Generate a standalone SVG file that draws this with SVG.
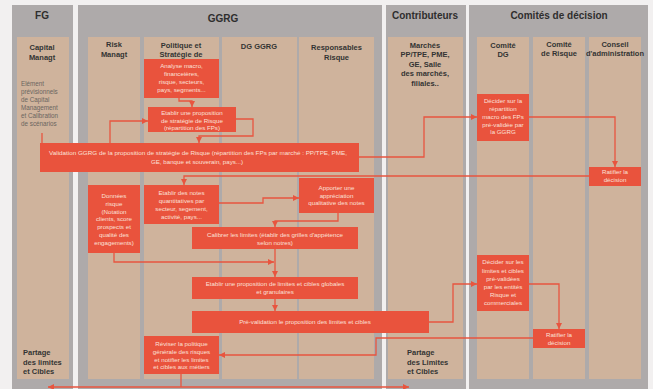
<svg xmlns="http://www.w3.org/2000/svg" width="653" height="389" viewBox="0 0 653 389">
<defs>
<marker id="ah" markerUnits="userSpaceOnUse" markerWidth="6" markerHeight="6" viewBox="0 0 6 6" refX="6" refY="3" orient="auto-start-reverse">
<path d="M0,0 L6,3 L0,6 z" fill="#e8553f"/>
</marker>
<style>
.panel{fill:#aeaaaa}
.lane{fill:#cfb39c}
.box{fill:#e9533d}
.hd{font-family:"Liberation Sans",Arial,sans-serif;font-weight:bold;font-size:10px;fill:#2e2e2e;text-anchor:middle}
.lt{font-family:"Liberation Sans",Arial,sans-serif;font-weight:bold;font-size:7.5px;fill:#333;text-anchor:middle}
.lb{font-family:"Liberation Sans",Arial,sans-serif;font-weight:bold;font-size:7.5px;fill:#333}
.sm{font-family:"Liberation Sans",Arial,sans-serif;font-size:6.3px;fill:#6b6560}
.bt{font-family:"Liberation Sans",Arial,sans-serif;font-size:6.2px;fill:#fbe0d8;text-anchor:middle}
.ln{fill:none;stroke:#e8553f;stroke-width:1.3}
.ar{marker-end:url(#ah)}
</style>
</defs>
<rect x="0" y="0" width="653" height="389" fill="#f2f0f0"/>
<g id="panels">
<rect class="panel" x="12" y="5" width="61" height="384"/>
<rect class="panel" x="78" y="5" width="304" height="384"/>
<rect class="panel" x="386" y="5" width="80" height="384"/>
<rect class="panel" x="469" y="5" width="179" height="384"/>
<text class="hd" x="42" y="19">FG</text>
<text class="hd" x="223" y="22">GGRG</text>
<text class="hd" x="425" y="19">Contributeurs</text>
<text class="hd" x="559" y="19">Comités de décision</text>
</g>
<g id="lanes">
<rect class="lane" x="17" y="37" width="52" height="342"/>
<rect class="lane" x="88" y="37" width="52" height="342"/>
<rect class="lane" x="144" y="37" width="75" height="342"/>
<rect class="lane" x="222" y="37" width="75" height="342"/>
<rect class="lane" x="299" y="37" width="75" height="342"/>
<rect class="lane" x="388" y="37" width="75" height="342"/>
<rect class="lane" x="477" y="37" width="52" height="342"/>
<rect class="lane" x="533" y="37" width="52" height="342"/>
<rect class="lane" x="589" y="37" width="52" height="342"/>
<text class="lt" x="42" y="49.7">Capital</text>
<text class="lt" x="42" y="59.5">Managt</text>
<text class="lt" x="114" y="47">Risk</text>
<text class="lt" x="114" y="56.5">Managt</text>
<text class="lt" x="181" y="47.5">Politique et</text>
<text class="lt" x="181" y="56.7">Stratégie de</text>
<text class="lt" x="259" y="48.5">DG GGRG</text>
<text class="lt" x="336.5" y="49.5">Responsables</text>
<text class="lt" x="336.5" y="59.5">Risque</text>
<text class="lt" x="425" y="47.7">Marchés</text>
<text class="lt" x="425" y="57">PP/TPE, PME,</text>
<text class="lt" x="425" y="66.5">GE, Salle</text>
<text class="lt" x="425" y="76">des marchés,</text>
<text class="lt" x="425" y="85.5">filiales..</text>
<text class="lt" x="503" y="47.7">Comité</text>
<text class="lt" x="503" y="57">DG</text>
<text class="lt" x="559" y="46.7">Comité</text>
<text class="lt" x="559" y="56.4">de Risque</text>
<text class="lt" x="615" y="46.7">Conseil</text>
<text class="lt" x="615" y="56.4">d'administration</text>
</g>
<g id="capital-note">
<text class="sm" x="21" y="86">Elément</text>
<text class="sm" x="21" y="94">prévisionnels</text>
<text class="sm" x="21" y="102">de Capital</text>
<text class="sm" x="21" y="110">Management</text>
<text class="sm" x="21" y="118">et Calibration</text>
<text class="sm" x="21" y="125.5">de scénarios</text>
</g>
<g id="partage-fg">
<text class="lb" x="23" y="354.7">Partage</text>
<text class="lb" x="23" y="364.5">des limites</text>
<text class="lb" x="23" y="373.5">et Cibles</text>
</g>
<g id="partage-contrib">
<text class="lb" x="407" y="354.7">Partage</text>
<text class="lb" x="407" y="364.5">des Limites</text>
<text class="lb" x="407" y="373.5">et Cibles</text>
</g>
<g id="connectors">
<path class="ln ar" d="M179,98 V101 H192 V107"/>
<path class="ln ar" d="M110,143 V121 H148"/>
<path class="ln ar" d="M236,119 H253 V136 H199 V143"/>
<path class="ln" d="M42,133 V143"/>
<path class="ln ar" d="M359,157 H424 V117 H477"/>
<path class="ln ar" d="M529,117 H615 V167"/>
<path class="ln ar" d="M589,176 H184 V185"/>
<path class="ln ar" d="M219,203 H263 V198 H299"/>
<path class="ln ar" d="M338,213 V221 H275 V227"/>
<path class="ln ar" d="M275,249 V277"/>
<path class="ln ar" d="M114,253 V262 H274"/>
<path class="ln ar" d="M275,299 V311"/>
<path class="ln ar" d="M429,322 H453 V284 H477"/>
<path class="ln ar" d="M529,284 H559 V329"/>
<path class="ln ar" d="M533,338 H376 V355 H219"/>
<path class="ln" d="M181,374 V387"/>
<path class="ln" d="M48,387 H409" marker-start="url(#ah)" marker-end="url(#ah)"/>
</g>
<g id="analyse">
<rect class="box" x="144" y="59" width="75" height="39"/>
<text class="bt" x="181.5" y="68">Analyse macro,</text>
<text class="bt" x="181.5" y="76">financeières,</text>
<text class="bt" x="181.5" y="84">risque, secteurs,</text>
<text class="bt" x="181.5" y="92">pays, segments...</text>
</g>
<g id="proposition-strategie">
<rect class="box" x="148" y="107" width="88" height="25"/>
<text class="bt" x="192" y="115.3">Etablir une proposition</text>
<text class="bt" x="192" y="122.8">de stratégie de Risque</text>
<text class="bt" x="192" y="130.3">(répartition des FPs)</text>
</g>
<g id="validation">
<rect class="box" x="40" y="143" width="319" height="29"/>
<text class="bt" x="198" y="155" textLength="298" lengthAdjust="spacingAndGlyphs">Validation GGRG de la proposition de stratégie de Risque (répartition des FPs par marché : PP/TPE, PME,</text>
<text class="bt" x="197" y="164">GE, banque et souverain, pays...)</text>
</g>
<g id="decider-fps">
<rect class="box" x="477" y="94" width="52" height="47"/>
<text class="bt" x="503" y="103">Décider sur la</text>
<text class="bt" x="503" y="111">répartition</text>
<text class="bt" x="503" y="119">macro des FPs</text>
<text class="bt" x="503" y="126.5">pré-validée par</text>
<text class="bt" x="503" y="134">la GGRG</text>
</g>
<g id="ratifier-1">
<rect class="box" x="589" y="167" width="52" height="19"/>
<text class="bt" x="615" y="174">Ratifier la</text>
<text class="bt" x="615" y="182">décision</text>
</g>
<g id="donnees">
<rect class="box" x="88" y="185" width="52" height="68"/>
<text class="bt" x="114" y="198">Données</text>
<text class="bt" x="114" y="205.8">risque</text>
<text class="bt" x="114" y="213.6">(Notation</text>
<text class="bt" x="114" y="221.4">clients, score</text>
<text class="bt" x="114" y="229.2">prospects et</text>
<text class="bt" x="114" y="237">qualité des</text>
<text class="bt" x="114" y="244.8">engagements)</text>
</g>
<g id="notes">
<rect class="box" x="144" y="185" width="75" height="39"/>
<text class="bt" x="181.5" y="195">Etablir des notes</text>
<text class="bt" x="181.5" y="203">quantitatives par</text>
<text class="bt" x="181.5" y="211">secteur, segement,</text>
<text class="bt" x="181.5" y="219">activité, pays...</text>
</g>
<g id="apporter">
<rect class="box" x="299" y="178" width="75" height="35"/>
<text class="bt" x="336.5" y="190">Apporter une</text>
<text class="bt" x="336.5" y="197.5">appréciation</text>
<text class="bt" x="336.5" y="205">qualitative des notes</text>
</g>
<g id="calibrer">
<rect class="box" x="192" y="227" width="166" height="22"/>
<text class="bt" x="275" y="237">Calibrer les limites (établir des grilles d'appétence</text>
<text class="bt" x="275" y="245">selon notres)</text>
</g>
<g id="proposition-limites">
<rect class="box" x="192" y="277" width="166" height="22"/>
<text class="bt" x="275" y="286">Etablir une proposition de limites et cibles globales</text>
<text class="bt" x="275" y="294">et granulaires</text>
</g>
<g id="prevalidation">
<rect class="box" x="192" y="311" width="237" height="22"/>
<text class="bt" x="305" y="324">Pré-validation le proposition des limites et cibles</text>
</g>
<g id="decider-limites">
<rect class="box" x="477" y="255" width="52" height="56"/>
<text class="bt" x="503" y="264">Décider sur les</text>
<text class="bt" x="503" y="272.5">limites et cibles</text>
<text class="bt" x="503" y="281">pré-validées</text>
<text class="bt" x="503" y="289">par les entités</text>
<text class="bt" x="503" y="297">Risque et</text>
<text class="bt" x="503" y="304.5">commerciales</text>
</g>
<g id="ratifier-2">
<rect class="box" x="533" y="329" width="52" height="19"/>
<text class="bt" x="559" y="337">Ratifier la</text>
<text class="bt" x="559" y="345">décision</text>
</g>
<g id="reviser">
<rect class="box" x="144" y="336" width="75" height="38"/>
<text class="bt" x="181.5" y="346">Réviser la politique</text>
<text class="bt" x="181.5" y="354">générale des risques</text>
<text class="bt" x="181.5" y="361.5">et notifier les limites</text>
<text class="bt" x="181.5" y="369">et cibles aux métiers</text>
</g>
</svg>
